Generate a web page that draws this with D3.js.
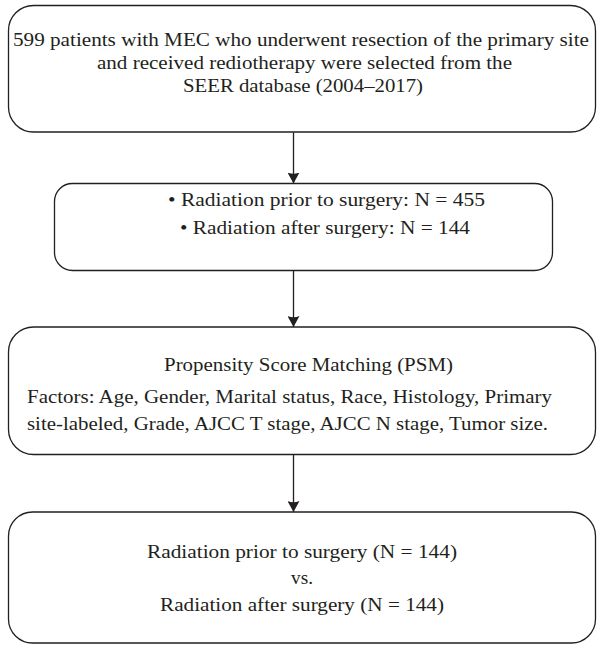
<!DOCTYPE html>
<html>
<head>
<meta charset="utf-8">
<script src="https://cdn.jsdelivr.net/npm/d3@7"></script>
<style>
  html, body { margin: 0; padding: 0; background: #fff; }
  svg { display: block; }
  text { font-family: "Liberation Serif", "Times New Roman", serif; fill: #231f20; }
</style>
</head>
<body>
<svg id="chart" width="597" height="646"></svg>
<script>
// ---- data ----
const totalPatients = 599;
const groupLabels = ["Radiation prior to surgery", "Radiation after surgery"];
const groupCounts = [455, 144];
const matchedCounts = [144, 144];
const studyYears = [2004, 2017];

const box1Lines = [
  `${totalPatients} patients with MEC who underwent resection of the primary site`,
  "and received rediotherapy were selected from the",
  `SEER database (${studyYears[0]}\u2013${studyYears[1]})`
];
const box2Lines = groupLabels.map((g, i) => `\u2022 ${g}: N = ${groupCounts[i]}`);
const box3Lines = [
  "Propensity Score Matching (PSM)",
  "Factors: Age, Gender, Marital status, Race, Histology, Primary",
  "site-labeled, Grade, AJCC T stage, AJCC N stage, Tumor size."
];
const box4Lines = [
  `${groupLabels[0]} (N = ${matchedCounts[0]})`,
  "vs.",
  `${groupLabels[1]} (N = ${matchedCounts[1]})`
];

// ---- layout (positions only) ----
const svg = d3.select("#chart");
const stroke = "#231f20";
const fontSize = 19;

const boxes = [
  { x0: 8,  x1: 596, y0: 5,   y1: 132.5, r: 25, lines: box1Lines,
    pos: [[301, 40, 576], [304.5, 62.5, 415], [303, 85.5, 240]] },
  { x0: 54, x1: 553, y0: 183, y1: 271, r: 18, lines: box2Lines,
    pos: [[326.5, 199.5, 317], [325, 227.5, 290]] },
  { x0: 8,  x1: 596, y0: 326.5, y1: 455, r: 25, lines: box3Lines,
    pos: [[308.5, 365, 289], [289.5, 397, 525], [287.5, 423.5, 521]] },
  { x0: 8,  x1: 596, y0: 511.5, y1: 643.5, r: 24, lines: box4Lines,
    pos: [[302, 552, 310], [302, 578, 22], [302, 605, 284]] }
];

const arrowX = 293.5;

svg.append("defs").append("marker")
  .attr("id", "arrow")
  .attr("viewBox", "0 0 12 11")
  .attr("refX", 6).attr("refY", 11)
  .attr("markerWidth", 12).attr("markerHeight", 11)
  .attr("markerUnits", "userSpaceOnUse")
  .attr("orient", "0")
  .append("path")
  .attr("d", "M0,0 Q6,2.5 12,0 L6,11 Z")
  .attr("fill", stroke);

svg.selectAll("rect.box").data(boxes).join("rect")
  .attr("class", "box")
  .attr("x", d => d.x0 + 0.5)
  .attr("y", d => d.y0 + 0.5)
  .attr("width", d => d.x1 - d.x0 - 1)
  .attr("height", d => d.y1 - d.y0 - 1)
  .attr("rx", d => d.r).attr("ry", d => d.r)
  .attr("fill", "#fff")
  .attr("stroke", stroke)
  .attr("stroke-width", 1.3);

const links = d3.pairs(boxes);
svg.selectAll("line.link").data(links).join("line")
  .attr("class", "link")
  .attr("x1", arrowX).attr("x2", arrowX)
  .attr("y1", d => d[0].y1)
  .attr("y2", d => d[1].y0 + 0.5)
  .attr("stroke", stroke)
  .attr("stroke-width", 1.3)
  .attr("marker-end", "url(#arrow)");

boxes.forEach(b => {
  svg.append("g").selectAll("text").data(b.lines).join("text")
    .attr("x", (d, i) => b.pos[i][0])
    .attr("y", (d, i) => b.pos[i][1])
    .attr("dy", "0.33em")
    .attr("text-anchor", "middle")
    .attr("font-size", fontSize)
    .attr("textLength", (d, i) => b.pos[i][2])
    .attr("lengthAdjust", "spacingAndGlyphs")
    .text(d => d);
});
</script>
</body>
</html>
